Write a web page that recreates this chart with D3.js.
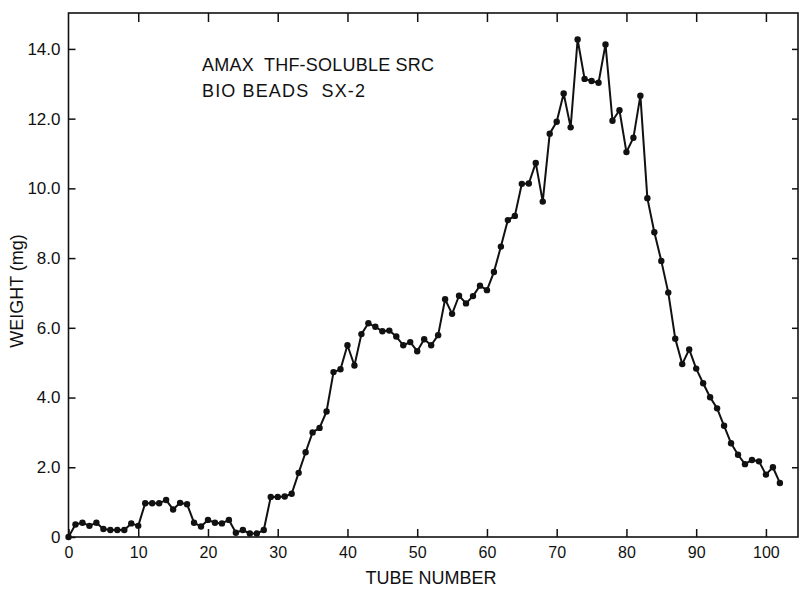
<!DOCTYPE html>
<html>
<head>
<meta charset="utf-8">
<script src="https://cdn.jsdelivr.net/npm/d3@7"></script>
<style>
  html, body { margin: 0; padding: 0; background: #fff; }
  svg { display: block; font-family: "Liberation Sans", Arial, sans-serif; }
</style>
</head>
<body>
<svg id="chart" width="800" height="590"></svg>
<script>
// Tube numbers 0..102
const tubes = d3.range(0, 103);
// Weight (mg) per tube
const weights = [
  0.00, 0.36, 0.41, 0.32, 0.41, 0.23, 0.20, 0.20, 0.20, 0.39,
  0.32, 0.97, 0.97, 0.97, 1.06, 0.79, 0.98, 0.94, 0.41, 0.30,
  0.49, 0.41, 0.39, 0.49, 0.12, 0.20, 0.10, 0.10, 0.20, 1.15,
  1.15, 1.16, 1.24, 1.84, 2.43, 3.00, 3.13, 3.60, 4.73, 4.81,
  5.50, 4.92, 5.82, 6.13, 6.03, 5.90, 5.92, 5.75, 5.50, 5.59,
  5.33, 5.67, 5.50, 5.79, 6.82, 6.40, 6.92, 6.70, 6.91, 7.21,
  7.08, 7.60, 8.33, 9.09, 9.21, 10.13, 10.14, 10.73, 9.62, 11.57,
  11.91, 12.72, 11.75, 14.27, 13.14, 13.08, 13.03, 14.13, 11.94, 12.24,
  11.04, 11.45, 12.66, 9.72, 8.74, 7.92, 7.01, 5.69, 4.96, 5.38,
  4.83, 4.41, 4.01, 3.69, 3.19, 2.69, 2.36, 2.09, 2.21, 2.17,
  1.79, 2.00, 1.55
];
const xTicks = [0, 10, 20, 30, 40, 50, 60, 70, 80, 90, 100];
const yTicks = [0, 2, 4, 6, 8, 10, 12, 14];
const yTickLabels = ["0", "2.0", "4.0", "6.0", "8.0", "10.0", "12.0", "14.0"];
const titleLines = ["AMAX  THF-SOLUBLE SRC", "BIO BEADS  SX-2"];
const xTitle = "TUBE NUMBER";
const yTitle = "WEIGHT (mg)";

const data = tubes.map((t, i) => ({ t, w: weights[i] }));

const L = 68.5, R = 798, T = 13, B = 537;
const svg = d3.select("#chart");

const x = d3.scaleLinear().domain([0, 104.6]).range([L, R]);
const y = d3.scaleLinear().domain([0, 15.03]).range([B, T]);

// Frame
svg.append("rect")
  .attr("x", L).attr("y", T).attr("width", R - L).attr("height", B - T)
  .attr("fill", "none").attr("stroke", "#111").attr("stroke-width", 1.6);

const styleAxis = g => {
  g.select(".domain").remove();
  g.selectAll(".tick line").attr("stroke", "#111").attr("stroke-width", 1.5);
  g.selectAll(".tick text").attr("fill", "#111");
};

// Left axis
svg.append("g").attr("transform", `translate(${L},0)`)
  .call(d3.axisLeft(y).tickValues(yTicks).tickSize(-7).tickPadding(8)
    .tickFormat((d, i) => yTickLabels[i]))
  .call(styleAxis)
  .call(g => g.selectAll(".tick text").attr("font-size", 17));

// Right axis ticks
svg.append("g").attr("transform", `translate(${R},0)`)
  .call(d3.axisRight(y).tickValues(yTicks.filter(d => d > 0)).tickSize(-6).tickFormat(""))
  .call(styleAxis);

// Bottom axis
svg.append("g").attr("transform", `translate(0,${B})`)
  .call(d3.axisBottom(x).tickValues(xTicks).tickSize(-8).tickPadding(10)
    .tickFormat(d3.format("d")))
  .call(styleAxis)
  .call(g => g.selectAll(".tick text").attr("font-size", 16));

// Top axis ticks
svg.append("g").attr("transform", `translate(0,${T})`)
  .call(d3.axisTop(x).tickValues(xTicks.filter(d => d > 0)).tickSize(-9).tickFormat(""))
  .call(styleAxis);

// Line
const line = d3.line().x(d => x(d.t)).y(d => y(d.w));
svg.append("path").datum(data)
  .attr("d", line).attr("fill", "none")
  .attr("stroke", "#111").attr("stroke-width", 2).attr("stroke-linejoin", "round");

// Points
svg.append("g").selectAll("circle").data(data).join("circle")
  .attr("cx", d => x(d.t)).attr("cy", d => y(d.w)).attr("r", 3.2)
  .attr("fill", "#111");

// Annotation
svg.append("text").attr("x", 202).attr("y", 71).attr("font-size", 18)
  .attr("fill", "#111").attr("textLength", 232).attr("lengthAdjust", "spacing")
  .style("white-space", "pre")
  .text(titleLines[0]);
svg.append("text").attr("x", 202).attr("y", 97).attr("font-size", 18)
  .attr("fill", "#111").attr("textLength", 163).attr("lengthAdjust", "spacing")
  .style("white-space", "pre")
  .text(titleLines[1]);

// Axis titles
svg.append("text").attr("x", 431).attr("y", 584).attr("font-size", 18)
  .attr("text-anchor", "middle").attr("fill", "#111").text(xTitle);
svg.append("text").attr("transform", "translate(23,291) rotate(-90)")
  .attr("font-size", 18).attr("text-anchor", "middle").attr("fill", "#111").text(yTitle);
</script>
</body>
</html>
